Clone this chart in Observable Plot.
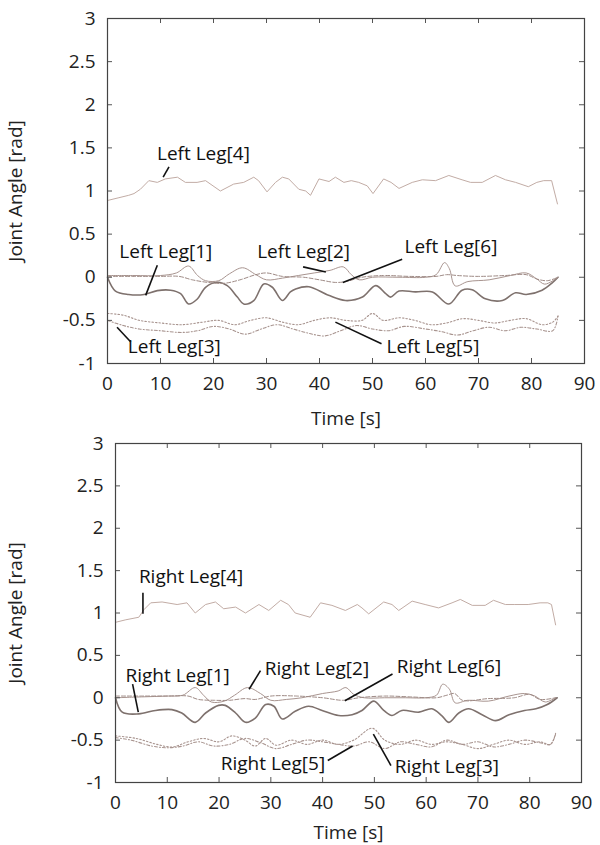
<!DOCTYPE html>
<html><head><meta charset="utf-8">
<script src="https://cdn.jsdelivr.net/npm/d3@7"></script>
<script src="https://cdn.jsdelivr.net/npm/@observablehq/plot@0.6"></script>
<style>body{margin:0;background:#fff} #c svg{display:block}</style>
</head><body><div id="c"></div>
<script>
// ---------- axes ----------
const xTicks = [0, 10, 20, 30, 40, 50, 60, 70, 80, 90];
const yTicks = [-1, -0.5, 0, 0.5, 1, 1.5, 2, 2.5, 3];
const xLabel = "Time [s]";
const yLabel = "Joint Angle [rad]";

// ---------- Left legs (top panel): [time s, angle rad] ----------
const leftLeg1 = [[0,0],[1.5,-0.16],[4,-0.2],[6.9,-0.2],[9.4,-0.155],[11.9,-0.15],[13.8,-0.19],[15.3,-0.31],[16.9,-0.255],[18.5,-0.116],[20.7,-0.058],[22.6,-0.097],[24.5,-0.23],[25.7,-0.31],[27.6,-0.27],[29.5,-0.077],[31.1,-0.116],[33,-0.27],[34.5,-0.17],[35.5,-0.135],[38,-0.11],[41.7,-0.21],[44.9,-0.27],[48.1,-0.23],[50.6,-0.097],[52.5,-0.19],[53.4,-0.23],[55,-0.16],[58.1,-0.17],[61.3,-0.17],[64.4,-0.31],[66.9,-0.15],[68.8,-0.145],[71.3,-0.25],[74.5,-0.27],[77,-0.18],[79,-0.2],[82,-0.15],[84,-0.06],[85,0]];
const leftLeg2 = [[0,0.02],[5,0.02],[10,0.02],[13,0.05],[15.3,0.13],[17,0.02],[18.5,-0.04],[21,-0.04],[23,0.04],[25.5,0.11],[28,0.03],[30,-0.03],[33,-0.01],[36,0.02],[39,0.05],[42,0.08],[44.5,0.12],[46,0.03],[47.5,-0.03],[50,0],[55,0],[60,0],[62,0.03],[63.6,0.17],[64.5,0.1],[65.6,-0.1],[68,-0.05],[72,-0.03],[76,0.02],[79,0.05],[81,-0.02],[82.5,-0.08],[85,0]];
const leftLeg3 = [[0,-0.42],[3,-0.44],[6,-0.5],[10,-0.53],[14,-0.55],[18,-0.52],[21,-0.5],[24,-0.55],[27,-0.5],[30,-0.47],[33,-0.52],[36,-0.55],[39,-0.5],[42,-0.47],[45,-0.5],[48,-0.5],[50,-0.42],[52,-0.5],[55,-0.47],[58,-0.5],[61,-0.55],[64,-0.53],[67,-0.48],[70,-0.5],[73,-0.53],[76,-0.5],[79,-0.48],[82,-0.55],[84,-0.52],[85,-0.45]];
const leftLeg4 = [[0,0.89],[2,0.92],[4,0.95],[5,0.97],[6.2,1.02],[7.8,1.12],[9.4,1.1],[10.9,1.14],[13.2,1.16],[14.7,1.1],[16.9,1.1],[18.5,1.12],[21.3,1.0],[23.8,1.08],[25.7,1.1],[27.6,1.16],[28.5,1.12],[30.1,0.99],[31.7,1.1],[33,1.16],[34.2,1.14],[36.1,1.02],[37.4,1.0],[38.3,0.95],[39.9,1.14],[41.8,1.11],[43,1.16],[44.6,1.1],[46,1.12],[47.4,1.1],[49,1.06],[50.1,0.97],[52.1,1.14],[53.5,1.1],[55,1.03],[57.5,1.1],[59.4,1.13],[61.9,1.12],[64.4,1.18],[66.9,1.13],[68.5,1.1],[70.7,1.1],[73.2,1.18],[75.1,1.13],[77,1.1],[79.4,1.05],[81,1.1],[82.3,1.12],[83.8,1.12],[84.9,0.85]];
const leftLeg5 = [[0,-0.5],[3,-0.56],[6,-0.6],[10,-0.62],[14,-0.64],[17,-0.62],[20,-0.57],[23,-0.6],[26,-0.66],[29,-0.6],[32,-0.55],[35,-0.6],[38,-0.65],[41,-0.68],[44,-0.62],[47,-0.56],[50,-0.6],[53,-0.62],[56,-0.57],[60,-0.6],[63,-0.63],[66,-0.67],[69,-0.62],[72,-0.58],[75,-0.62],[78,-0.58],[81,-0.6],[84,-0.62],[85,-0.45]];
const leftLeg6 = [[0,0.01],[5,0.01],[10,0.01],[13.5,0.01],[16,-0.03],[19,-0.06],[22,-0.07],[25,-0.03],[28,0.03],[30,0.05],[33,0.01],[37,0],[40,-0.03],[43,-0.06],[45,-0.05],[48,0],[52,0.02],[57,0.01],[62,0.01],[64,0.03],[66,0.02],[70,0.01],[75,0.02],[79,0.03],[81,-0.02],[83,-0.04],[85,0]];

// ---------- Right legs (bottom panel) ----------
const rightLeg1 = [[0,0],[1.3,-0.17],[4.5,-0.19],[7.7,-0.15],[10.9,-0.14],[12.8,-0.18],[15.4,-0.29],[17.4,-0.18],[19.9,-0.09],[21.2,-0.09],[23.2,-0.18],[25.1,-0.29],[27,-0.24],[29,-0.08],[30.6,-0.1],[32.2,-0.25],[34.7,-0.16],[37.3,-0.1],[39.9,-0.15],[43.1,-0.21],[45.7,-0.2],[47.6,-0.15],[49.9,-0.04],[51.8,-0.15],[53.4,-0.21],[55.3,-0.15],[58.6,-0.17],[61.1,-0.13],[63,-0.21],[64.4,-0.29],[66.3,-0.18],[68.2,-0.13],[70.8,-0.2],[73.4,-0.27],[76,-0.2],[79,-0.15],[81.2,-0.13],[83.4,-0.08],[85.3,0]];
const rightLeg2 = [[0,0],[5,0.01],[10,0.02],[13,0.03],[15.4,0.12],[17,0.03],[18.5,-0.05],[21,-0.04],[23,0.03],[25.5,0.12],[28,0.05],[30,-0.03],[33,-0.02],[36,0],[40,0.05],[43,0.08],[44.5,0.12],[46,0.04],[48,0],[52,0],[56,0],[60,0],[62,0.03],[63.2,0.16],[64.5,0.1],[65.6,-0.06],[68,-0.03],[72,-0.04],[76,0.02],[79,0.05],[81,0.02],[83,-0.05],[85,0]];
const rightLeg3 = [[0,-0.45],[4,-0.48],[8,-0.55],[11,-0.58],[14,-0.52],[17,-0.48],[20,-0.52],[22.5,-0.45],[25,-0.5],[27,-0.57],[29,-0.48],[31,-0.56],[34,-0.5],[37,-0.55],[40,-0.5],[43,-0.55],[46,-0.5],[49.6,-0.36],[52,-0.5],[55,-0.55],[58,-0.5],[61,-0.55],[64,-0.52],[67,-0.55],[70,-0.6],[73,-0.55],[76,-0.5],[79,-0.55],[82,-0.52],[84,-0.55],[85,-0.42]];
const rightLeg4 = [[0,0.89],[2,0.92],[4.5,0.95],[5.5,1.04],[6.8,1.12],[9,1.13],[11.9,1.1],[13.8,1.12],[15.4,1.0],[17.4,1.1],[19.3,1.13],[20.9,1.05],[23.2,1.07],[25.1,1.0],[27.7,1.1],[29.6,1.03],[31.9,1.15],[33.4,1.1],[34.7,1.0],[37.6,0.95],[39.6,1.12],[41.8,1.09],[44.4,1.03],[46.7,1.1],[47.6,1.06],[48.9,0.99],[51.8,1.13],[53.4,1.1],[54.7,1.03],[57.3,1.14],[59.8,1.1],[62.4,1.06],[65,1.12],[66.6,1.16],[68.9,1.09],[71.4,1.09],[73,1.15],[75.3,1.1],[77,1.1],[79.7,1.1],[82,1.12],[83.5,1.12],[84.2,1.1],[85,0.86]];
const rightLeg5 = [[0,-0.47],[3,-0.5],[7,-0.57],[10,-0.59],[13,-0.57],[16,-0.52],[19,-0.57],[22,-0.55],[25,-0.48],[28,-0.53],[31,-0.6],[34,-0.55],[37,-0.5],[40,-0.52],[43,-0.55],[46,-0.57],[49,-0.52],[52,-0.6],[55,-0.52],[58,-0.55],[61,-0.58],[64,-0.5],[67,-0.55],[70,-0.52],[73,-0.58],[76,-0.55],[79,-0.5],[82,-0.53],[84,-0.55],[85,-0.43]];
const rightLeg6 = [[0,0.02],[5,0.02],[10,0.02],[14,0.02],[16,-0.02],[19,-0.03],[22,-0.03],[25,-0.01],[27,-0.02],[30,0.02],[35,0.02],[40,0],[44,-0.03],[47,0],[52,0.02],[57,0.01],[62,0],[64,0.03],[65.5,0.05],[67,-0.03],[72,-0.01],[77,0],[80,0.04],[82,-0.02],[85,0]];

// ---------- annotations: [text, textX, textY, pointerX1, pointerY1, pointerX2, pointerY2] ----------
const leftNotes = [
  ["Left Leg[4]", 18.1, 1.43, 11.6, 1.28, 10.5, 1.16],
  ["Left Leg[1]", 11, 0.29, 9.4, 0.14, 7.2, -0.21],
  ["Left Leg[2]", 37, 0.29, 36.9, 0.12, 41.2, 0.06],
  ["Left Leg[6]", 64.8, 0.35, 55.6, 0.21, 44.4, -0.06],
  ["Left Leg[3]", 12.6, -0.81, 4.4, -0.75, 1.8, -0.58],
  ["Left Leg[5]", 61.4, -0.81, 51.7, -0.77, 43, -0.52]
];
const rightNotes = [
  ["Right Leg[4]", 14.6, 1.42, 5.3, 1.24, 5.3, 0.99],
  ["Right Leg[1]", 12, 0.26, 3.3, 0.16, 4.4, -0.17],
  ["Right Leg[2]", 38.9, 0.34, 28, 0.32, 25.8, 0.1],
  ["Right Leg[6]", 64.4, 0.36, 53.5, 0.28, 44.3, -0.035],
  ["Right Leg[5]", 30.4, -0.78, 41, -0.74, 45.8, -0.57],
  ["Right Leg[3]", 64, -0.82, 53.2, -0.8, 49.8, -0.43]
];

// ---------- styles (not data) ----------
const lineStyle = [
  {stroke: "#7e716d", strokeWidth: 1.6, dash: null, curve: "catmull-rom"},      // 1
  {stroke: "#a8948f", strokeWidth: 1.0, dash: null, curve: "catmull-rom"},      // 2
  {stroke: "#a8948f", strokeWidth: 1.1, dash: "1.5,2", curve: "catmull-rom"},   // 3
  {stroke: "#c2aca5", strokeWidth: 1.0, dash: null, curve: "linear"},           // 4
  {stroke: "#a8948f", strokeWidth: 1.1, dash: "3,2,1,2", curve: "catmull-rom"}, // 5
  {stroke: "#9e8a85", strokeWidth: 1.0, dash: "4,2", curve: "catmull-rom"}      // 6
];

const FS = 19;

function panel(series, notes, m) {
  const H = m.height;
  const frameH = H - m.top - m.bottom;
  const frameW = 600 - m.left - m.right;
  const tickLen = 5;
  const marks = [];
  series.forEach((s, i) => {
    const st = lineStyle[i];
    marks.push(Plot.line(s, {x: d => d[0], y: d => d[1], stroke: st.stroke, strokeWidth: st.strokeWidth,
      strokeDasharray: st.dash, curve: st.curve}));
  });
  marks.push(
    Plot.link(notes, {x1: d => d[3], y1: d => d[4], x2: d => d[5], y2: d => d[6], stroke: "#111", strokeWidth: 1.6}),
    Plot.text(notes, {x: d => d[1], y: d => d[2], text: d => d[0], fill: "#111", fontSize: FS}),
    // inward ticks on all four sides
    Plot.tickX(xTicks.slice(1, -1), {x: d => d, insetTop: frameH - tickLen, stroke: "#555"}),
    Plot.tickX(xTicks.slice(1, -1), {x: d => d, insetBottom: frameH - tickLen, stroke: "#555"}),
    Plot.tickY(yTicks.slice(1, -1), {y: d => d, insetRight: frameW - tickLen, stroke: "#555"}),
    Plot.tickY(yTicks.slice(1, -1), {y: d => d, insetLeft: frameW - tickLen, stroke: "#555"}),
    Plot.frame({stroke: "#444", strokeWidth: 1.2}),
    Plot.axisX(xTicks, {tickSize: 0, tickPadding: 13, tickFormat: d => String(d), label: xLabel,
      labelAnchor: "center", labelOffset: m.xLabelOffset, labelArrow: "none", fontSize: FS}),
    Plot.axisY(yTicks, {tickSize: 0, tickPadding: 12, tickFormat: d => String(d), label: yLabel,
      labelAnchor: "center", labelOffset: m.left - 8, labelArrow: "none", fontSize: FS})
  );
  return Plot.plot({
    width: 600, height: H,
    marginLeft: m.left, marginRight: m.right, marginTop: m.top, marginBottom: m.bottom,
    x: {domain: [0, 90]},
    y: {domain: [-1, 3]},
    style: {fontFamily: "'Open Sans', sans-serif", fontSize: FS + "px", color: "#222", background: "#fff"},
    marks
  });
}

const c = document.getElementById("c");
c.append(panel([leftLeg1, leftLeg2, leftLeg3, leftLeg4, leftLeg5, leftLeg6], leftNotes,
  {height: 430, left: 107, right: 16, top: 18, bottom: 67, xLabelOffset: 61}));
c.append(panel([rightLeg1, rightLeg2, rightLeg3, rightLeg4, rightLeg5, rightLeg6], rightNotes,
  {height: 415, left: 115, right: 19, top: 13, bottom: 63, xLabelOffset: 56}));
</script>
</body></html>
